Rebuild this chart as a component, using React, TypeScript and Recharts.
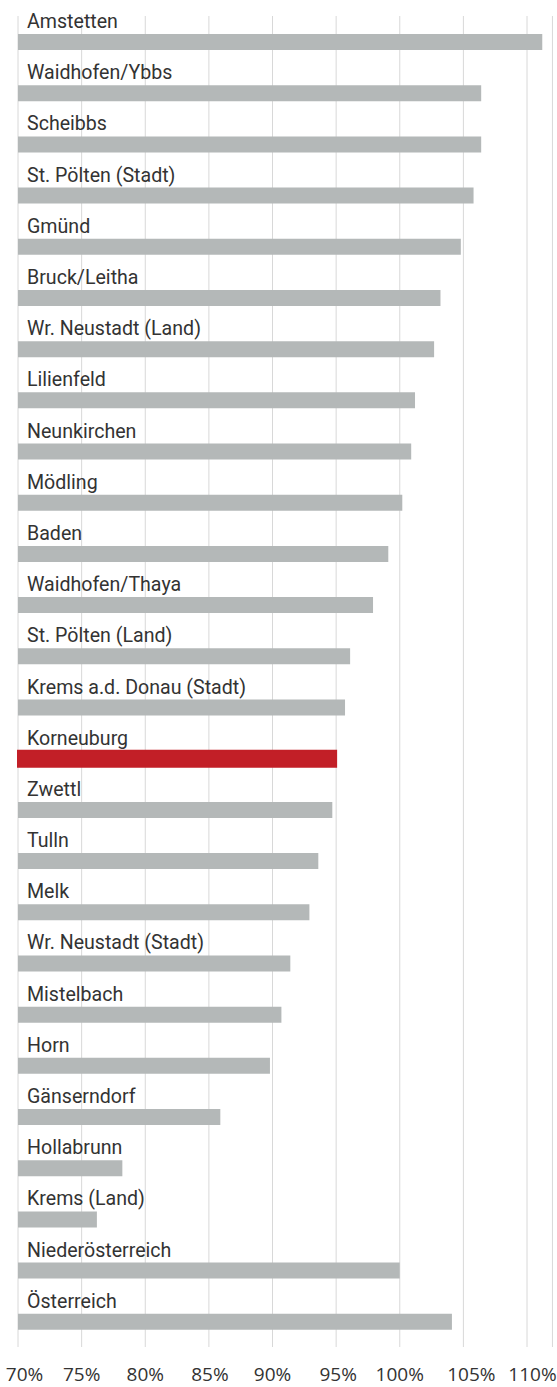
import React from "react";
import { BarChart, Bar, XAxis, YAxis, CartesianGrid, Cell, LabelList } from "recharts";

const CATEGORIES = [
  "Amstetten",
  "Waidhofen/Ybbs",
  "Scheibbs",
  "St. Pölten (Stadt)",
  "Gmünd",
  "Bruck/Leitha",
  "Wr. Neustadt (Land)",
  "Lilienfeld",
  "Neunkirchen",
  "Mödling",
  "Baden",
  "Waidhofen/Thaya",
  "St. Pölten (Land)",
  "Krems a.d. Donau (Stadt)",
  "Korneuburg",
  "Zwettl",
  "Tulln",
  "Melk",
  "Wr. Neustadt (Stadt)",
  "Mistelbach",
  "Horn",
  "Gänserndorf",
  "Hollabrunn",
  "Krems (Land)",
  "Niederösterreich",
  "Österreich",
];

const VALUES = [
  111.2, 106.4, 106.4, 105.8, 104.8, 103.2, 102.7, 101.2, 100.9, 100.2, 99.1, 97.9, 96.1,
  95.7, 95.0, 94.7, 93.6, 92.9, 91.4, 90.7, 89.8, 85.9, 78.2, 76.2, 100.0, 104.1,
];

const HIGHLIGHT = "Korneuburg";

const TICKS = [70, 75, 80, 85, 90, 95, 100, 105, 110];
const TICK_LABELS = ["70%", "75%", "80%", "85%", "90%", "95%", "100%", "105%", "110%"];
const TICK_DX = [6.5, 0, 0, 1, 0, 2, 0, 8, 5.5];

const data = CATEGORIES.map((name, i) => ({ name, value: VALUES[i] }));

const GRAY = "#b4b8b8";
const RED = "#c21f27";

const CategoryLabel = (props: any) => {
  const { x, y, index } = props;
  return (
    <text
      x={Number(x) + 9}
      y={Number(y) - 6}
      fill="#333333"
      fontFamily="Roboto, sans-serif"
      fontSize={19.6}
      textAnchor="start"
    >
      {CATEGORIES[index]}
    </text>
  );
};

const Tick = (props: any) => {
  const { x, y, payload, index } = props;
  const i = TICKS.indexOf(payload.value);
  return (
    <text
      x={Number(x) + (TICK_DX[i] ?? 0)}
      y={Number(y) + 34}
      fill="#333333"
      fontFamily="'Open Sans', sans-serif"
      fontSize={19}
      textAnchor="middle"
    >
      {TICK_LABELS[i] ?? String(index)}
    </text>
  );
};

export default function App() {
  return (
    <div style={{ position: "absolute", left: 0, top: 0, width: 557, height: 1387, background: "#fff" }}>
      <BarChart
        width={557}
        height={1387}
        data={data}
        layout="vertical"
        margin={{ top: 16, right: 4.55, bottom: 0, left: 18 }}
      >
        <CartesianGrid horizontal={false} vertical={true} stroke="#d8d8d8" strokeWidth={1} />
        <XAxis
          type="number"
          domain={[70, 112]}
          ticks={TICKS}
          axisLine={false}
          tickLine={false}
          tickSize={0}
          tickMargin={0}
          height={40}
          interval={0}
          tick={<Tick />}
        />
        <YAxis type="category" dataKey="name" hide />
        <Bar dataKey="value" barSize={16} isAnimationActive={false}>
          {data.map((d) => (
            <Cell
              key={d.name}
              fill={d.name === HIGHLIGHT ? RED : GRAY}
              stroke={d.name === HIGHLIGHT ? RED : "none"}
              strokeWidth={d.name === HIGHLIGHT ? 2 : 0}
            />
          ))}
          <LabelList dataKey="name" content={<CategoryLabel />} />
        </Bar>
      </BarChart>
    </div>
  );
}
